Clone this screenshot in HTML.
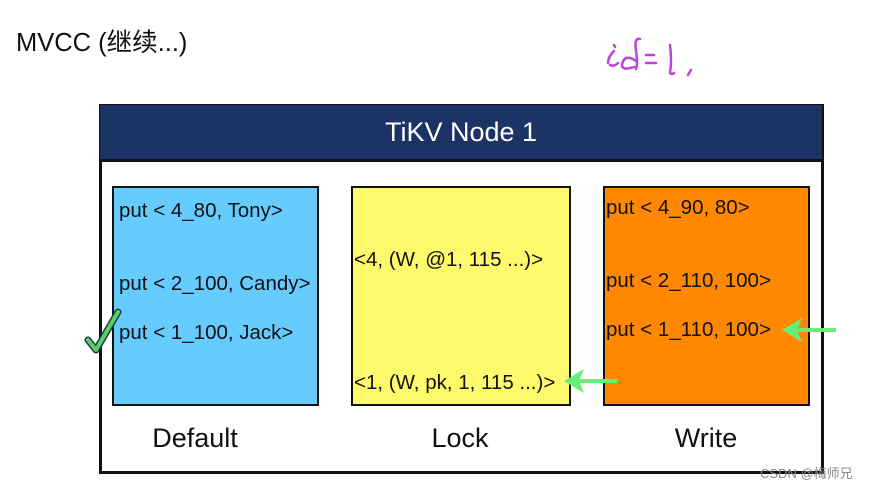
<!DOCTYPE html>
<html><head><meta charset="utf-8"><style>
body{margin:0;width:875px;height:488px;background:#fff;position:relative;overflow:hidden;font-family:"Liberation Sans","Noto Sans CJK SC",sans-serif;}
.a{position:absolute;}
.t{position:absolute;white-space:nowrap;font-size:20.5px;color:#111;}
.box{position:absolute;border:2px solid #111;box-sizing:border-box;}
.lbl{position:absolute;font-size:27px;color:#111;transform:translateX(-50%);top:423px;}
</style></head><body>
<div class="t" style="left:16px;top:22px;font-size:25.5px;">MVCC (继续...)</div>
<svg class="a" style="left:600px;top:25px" width="140" height="60" viewBox="0 0 140 60">
<g fill="none" stroke="#c040d8" stroke-width="2.5" stroke-linecap="round">
<path d="M14 26 q-6 6 -6 12 M10 40 q4 2 8 -2 M14 20 l1 2"/>
<path d="M40 14 q-6 -2 -4 12 q2 12 0 18 M36 36 q-12 -8 -14 4 q0 6 12 2"/>
<path d="M46 30 l8 0 M46 38 l10 0"/>
<path d="M70 20 q2 16 0 28 q2 2 4 0"/>
<path d="M88 50 l3 -5"/>
</g></svg>
<div class="box" style="left:99px;top:104px;width:725px;height:370px;border-width:3px;"></div>
<div class="a" style="left:100px;top:105px;width:722px;height:54px;background:#1c3366;border-bottom:3px solid #111;color:#fff;font-size:27px;text-align:center;line-height:54px;">TiKV Node 1</div>
<div class="box" style="left:112px;top:186px;width:207px;height:220px;background:#66ccff;"></div>
<div class="box" style="left:351px;top:186px;width:220px;height:220px;background:#fffa6b;"></div>
<div class="box" style="left:603px;top:186px;width:207px;height:220px;background:#ff8800;"></div>
<div class="t" style="left:119px;top:199px;">put &lt; 4_80, Tony&gt;</div>
<div class="t" style="left:119px;top:272px;">put &lt; 2_100, Candy&gt;</div>
<div class="t" style="left:119px;top:321px;">put &lt; 1_100, Jack&gt;</div>
<div class="t" style="left:354px;top:248px;">&lt;4, (W, @1, 115 ...)&gt;</div>
<div class="t" style="left:354px;top:371px;">&lt;1, (W, pk, 1, 115 ...)&gt;</div>
<div class="t" style="left:606px;top:196px;">put &lt; 4_90, 80&gt;</div>
<div class="t" style="left:606px;top:269px;">put &lt; 2_110, 100&gt;</div>
<div class="t" style="left:606px;top:318px;">put &lt; 1_110, 100&gt;</div>
<div class="lbl" style="left:195px;">Default</div>
<div class="lbl" style="left:460px;">Lock</div>
<div class="lbl" style="left:706px;">Write</div>
<svg class="a" style="left:0;top:0" width="875" height="488">
<g stroke="#66ee77" stroke-width="4" fill="none">
<path d="M836 330 L795 330"/>
<path d="M617 381 L577 381"/>
</g>
<g fill="#66ee77">
<path d="M782 330 L802 318 L797 330 L802 342 Z"/>
<path d="M564 381 L584 369 L579 381 L584 393 Z"/>
</g>
<path d="M88 340 L96 350 L118 312" fill="none" stroke="#1a3a5a" stroke-width="7" stroke-linecap="round" stroke-linejoin="round"/>
<path d="M88 340 L96 350 L118 312" fill="none" stroke="#5cd05c" stroke-width="4" stroke-linecap="round" stroke-linejoin="round"/>
</svg>
<div class="t" style="left:760px;top:463px;font-size:13px;color:#888;">CSDN @梅师兄</div>
</body></html>
